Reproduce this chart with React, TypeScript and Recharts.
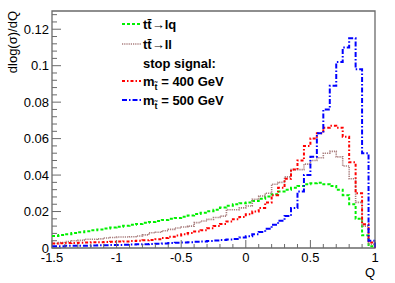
import React from "react";
import { LineChart, Line, XAxis, YAxis, ReferenceArea, Legend } from "recharts";

// lower edges of the Q bins (width 0.05)
const Q_LOW = [
  -1.5, -1.45, -1.4, -1.35, -1.3, -1.25, -1.2, -1.15, -1.1, -1.05,
  -1, -0.95, -0.9, -0.85, -0.8, -0.75, -0.7, -0.65, -0.6, -0.55,
  -0.5, -0.45, -0.4, -0.35, -0.3, -0.25, -0.2, -0.15, -0.1, -0.05,
  0, 0.05, 0.1, 0.15, 0.2, 0.25, 0.3, 0.35, 0.4, 0.45,
  0.5, 0.55, 0.6, 0.65, 0.7, 0.75, 0.8, 0.85, 0.9, 0.95,
];
const Q_END = 1;

const TT_LQ = [
  0.0066, 0.0071, 0.0076, 0.0082, 0.0087, 0.0092, 0.0097, 0.0102, 0.0107, 0.0112,
  0.0117, 0.0122, 0.0127, 0.0132, 0.0138, 0.0143, 0.0148, 0.0154, 0.016, 0.0165,
  0.0172, 0.0178, 0.0186, 0.0193, 0.0202, 0.021, 0.0222, 0.0232, 0.024, 0.0246,
  0.025, 0.0258, 0.027, 0.0283, 0.0295, 0.031, 0.032, 0.033, 0.034, 0.035,
  0.0355, 0.0358, 0.035, 0.034, 0.032, 0.029, 0.024, 0.016, 0.007, 0.001,
];
const TT_LL = [
  0.0025, 0.003, 0.0035, 0.004, 0.0042, 0.0048, 0.0048, 0.005, 0.0055, 0.0058,
  0.006, 0.006, 0.0062, 0.0066, 0.0072, 0.0084, 0.0086, 0.0095, 0.0102, 0.011,
  0.0115, 0.012, 0.0139, 0.0148, 0.0157, 0.0167, 0.0175, 0.021, 0.021, 0.022,
  0.023, 0.0267, 0.0285, 0.03, 0.035, 0.036, 0.039, 0.043, 0.043, 0.046,
  0.048, 0.0495, 0.052, 0.053, 0.05, 0.045, 0.038, 0.025, 0.012, 0.002,
];
const STOP_400 = [
  0.0025, 0.0026, 0.0027, 0.0028, 0.0029, 0.003, 0.0031, 0.0032, 0.0033, 0.0034,
  0.0035, 0.0036, 0.0038, 0.004, 0.0042, 0.0044, 0.0048, 0.0055, 0.0062, 0.0068,
  0.0075, 0.0082, 0.009, 0.0098, 0.0108, 0.012, 0.0132, 0.0145, 0.0158, 0.017,
  0.0185, 0.02, 0.022, 0.025, 0.029, 0.033, 0.038, 0.043, 0.048, 0.056,
  0.06, 0.063, 0.066, 0.067, 0.066, 0.061, 0.047, 0.03, 0.013, 0.003,
];
const STOP_500 = [
  0.001, 0.001, 0.0012, 0.0012, 0.0013, 0.0013, 0.0014, 0.0015, 0.0015, 0.0016,
  0.0017, 0.0018, 0.0019, 0.002, 0.0021, 0.0022, 0.0024, 0.0025, 0.0027, 0.0029,
  0.003, 0.0032, 0.0034, 0.0036, 0.0039, 0.0041, 0.0044, 0.0047, 0.005, 0.0058,
  0.0065, 0.0076, 0.0088, 0.0105, 0.0128, 0.015, 0.0175, 0.022, 0.031, 0.04,
  0.05, 0.063, 0.076, 0.089, 0.102, 0.11, 0.115, 0.098, 0.052, 0.004,
];

const X_TICKS = [
  -1.5, -1.4, -1.3, -1.2, -1.1, -1, -0.9, -0.8, -0.7, -0.6, -0.5, -0.4, -0.3,
  -0.2, -0.1, 0, 0.1, 0.2, 0.3, 0.4, 0.5, 0.6, 0.7, 0.8, 0.9, 1,
];
const X_LABELS = [-1.5, -1, -0.5, 0, 0.5, 1];
const Y_TICKS = [
  0, 0.004, 0.008, 0.012, 0.016, 0.02, 0.024, 0.028, 0.032, 0.036, 0.04, 0.044,
  0.048, 0.052, 0.056, 0.06, 0.064, 0.068, 0.072, 0.076, 0.08, 0.084, 0.088,
  0.092, 0.096, 0.1, 0.104, 0.108, 0.112, 0.116, 0.12, 0.124, 0.128,
];
const Y_LABELS = [0, 0.02, 0.04, 0.06, 0.08, 0.1, 0.12];

const STOP_T = "t\u0303";

const SERIES = [
  { key: "lq", name: "tt\u0304\u2192lq", color: "#00f000", dash: "3 2", width: 2 },
  { key: "ll", name: "tt\u0304\u2192ll", color: "#a87c7c", dash: "1.2 1", width: 1.6 },
  { key: "s400", mass: "400", color: "#ff0000", dash: "3 2 1.5 2", width: 2 },
  { key: "s500", mass: "500", color: "#0000ff", dash: "5 2 1.5 2", width: 2 },
];

const rows = Q_LOW.map((q, i) => ({
  q,
  lq: TT_LQ[i],
  ll: TT_LL[i],
  s400: STOP_400[i],
  s500: STOP_500[i],
}));
rows.push({ q: Q_END, lq: 0, ll: 0, s400: 0, s500: 0 });

const FONT = "'Liberation Sans', Arial, Helvetica, sans-serif";
const AXIS = "#6a6a6a";

const isMajor = (list: number[], v: number) => list.some((m) => Math.abs(m - v) < 1e-9);

function YTick(props: any) {
  const { x, y, payload } = props;
  const major = isMajor(Y_LABELS, payload.value);
  return (
    <g>
      <line x1={x} y1={y} x2={x + (major ? 9 : 5)} y2={y} stroke={AXIS} strokeWidth={1} />
      {major && (
        <text x={x - 3} y={y + 4.5} textAnchor="end" fontSize={13} fontFamily={FONT} fill="#000">
          {String(payload.value)}
        </text>
      )}
    </g>
  );
}

function XTick(props: any) {
  const { x, y, payload } = props;
  const major = isMajor(X_LABELS, payload.value);
  return (
    <g>
      <line x1={x} y1={y} x2={x} y2={y - (major ? 8 : 4)} stroke={AXIS} strokeWidth={1} />
      {major && (
        <text x={x} y={y + 14} textAnchor="middle" fontSize={13} fontFamily={FONT} fill="#000">
          {String(payload.value)}
        </text>
      )}
    </g>
  );
}

function LegendBox() {
  const item = (s: (typeof SERIES)[number], base: number) => (
    <g key={s.key}>
      <line
        x1={7}
        x2={26}
        y1={base - 5}
        y2={base - 5}
        stroke={s.color}
        strokeWidth={s.width}
        strokeDasharray={s.dash}
      />
      {s.name ? (
        <text x={28} y={base} fontSize={13} fontWeight="bold" fontFamily={FONT}>
          {s.name}
        </text>
      ) : (
        <text x={28} y={base} fontSize={13} fontWeight="bold" fontFamily={FONT}>
          m
          <tspan fontSize={9} dy={4}>
            {STOP_T}
          </tspan>
          <tspan dy={-4}>{` = ${s.mass} GeV`}</tspan>
        </text>
      )}
    </g>
  );
  return (
    <svg width={170} height={100}>
      {item(SERIES[0], 17)}
      {item(SERIES[1], 37)}
      <text x={28} y={56} fontSize={13} fontWeight="bold" fontFamily={FONT}>
        stop signal:
      </text>
      {item(SERIES[2], 74)}
      {item(SERIES[3], 93)}
    </svg>
  );
}

export default function App() {
  return (
    <div style={{ position: "absolute", left: 0, top: 0, background: "#fff" }}>
      <LineChart
        width={395}
        height={283}
        data={rows}
        margin={{ top: 11, right: 20, bottom: 10, left: 0 }}
      >
        <ReferenceArea
          x1={-1.5}
          x2={1}
          y1={0}
          y2={0.13}
          fill="none"
          stroke={AXIS}
          strokeWidth={1.3}
          fillOpacity={0}
        />
        <XAxis
          dataKey="q"
          type="number"
          domain={[-1.5, 1]}
          ticks={X_TICKS}
          interval={0}
          tickSize={0}
          tickMargin={0}
          axisLine={false}
          tick={<XTick />}
          height={25}
          label={{
            content: (p: any) => (
              <text
                x={p.viewBox.x + p.viewBox.width}
                y={p.viewBox.y + 29}
                textAnchor="end"
                fontSize={13}
                fontFamily={FONT}
              >
                Q
              </text>
            ),
          }}
        />
        <YAxis
          type="number"
          domain={[0, 0.13]}
          allowDataOverflow
          ticks={Y_TICKS}
          interval={0}
          tickSize={0}
          tickMargin={0}
          axisLine={false}
          tick={<YTick />}
          width={52}
          label={{
            content: (p: any) => (
              <text
                x={p.viewBox.x + 17}
                y={p.viewBox.y}
                transform={`rotate(-90, ${p.viewBox.x + 17}, ${p.viewBox.y})`}
                textAnchor="end"
                fontSize={13}
                fontFamily={FONT}
              >
                dlog(σ)/dQ
              </text>
            ),
          }}
        />
        <Legend
          layout="vertical"
          align="center"
          verticalAlign="middle"
          wrapperStyle={{ left: 115, top: 12 }}
          content={() => <LegendBox />}
        />
        {SERIES.map((s) => (
          <Line
            key={s.key}
            dataKey={s.key}
            type="stepAfter"
            stroke={s.color}
            strokeWidth={s.width}
            strokeDasharray={s.dash}
            dot={false}
            activeDot={false}
            isAnimationActive={false}
          />
        ))}
      </LineChart>
    </div>
  );
}
